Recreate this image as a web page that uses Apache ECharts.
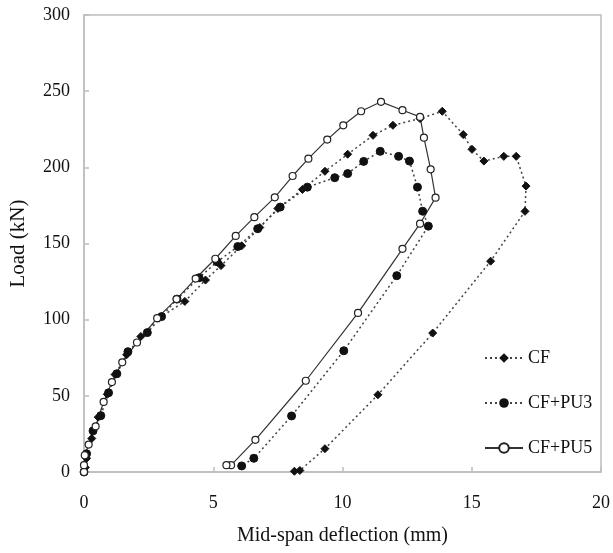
<!DOCTYPE html>
<html>
<head>
<meta charset="utf-8">
<script src="https://cdn.jsdelivr.net/npm/echarts@6/dist/echarts.min.js"></script>
<style>html,body{margin:0;padding:0;background:#fff}#c{width:613px;height:553px}</style>
</head>
<body>
<div id="c"></div>
<script>
var seriesNames = ['CF', 'CF+PU3', 'CF+PU5'];
var xTicks = [0, 5, 10, 15, 20];
var yTicks = [0, 50, 100, 150, 200, 250, 300];

var cfData = [
  [0.05,3],[0.1,9],[0.3,22],[0.55,36],[0.9,51],[1.2,64],[1.65,77],[2.2,89],[2.9,101],
  [3.9,112],[4.7,126],[5.3,135.5],[6.1,148.5],[6.8,160.5],[7.5,173],[8.45,185.5],
  [9.32,197.4],[10.2,208.6],[11.18,221],[11.95,227.6],[13.0,232],[13.86,236.8],
  [14.67,221.5],[15.01,211.8],[15.47,204.1],[16.24,207.2],[16.72,207.2],[17.10,187.7],
  [17.06,171.1],[15.73,138.4],[13.49,91.2],[11.37,50.7],[9.32,15.3],[8.35,1],[8.14,0.5]
];
var pu3Data = [
  [0,0],[0.1,12],[0.35,27],[0.65,37],[0.95,52],[1.27,64.5],[1.7,79],[2.45,91.5],[3.0,102],
  [3.6,113.5],[4.45,127.5],[5.15,138],[5.95,148],[6.72,159.7],[7.59,173.9],[8.64,187.0],
  [9.70,193.2],[10.2,195.9],[10.82,203.9],[11.46,210.5],[12.17,207.2],[12.59,204.1],
  [12.90,187.0],[13.10,171.2],[13.32,161.4],[12.10,128.9],[10.05,79.6],[8.03,36.8],
  [6.57,9],[6.10,4]
];
var pu5Data = [
  [0,0],[0,4.5],[0.03,11],[0.18,18],[0.45,30],[0.76,46],[1.08,59],[1.48,72],[2.05,85],
  [2.83,101],[3.58,113.5],[4.32,127],[5.08,140],[5.87,155],[6.59,167.3],[7.38,180.3],
  [8.07,194.3],[8.68,205.7],[9.41,218.2],[10.03,227.6],[10.72,236.8],[11.49,243.0],
  [12.32,237.5],[13.0,233.1],[13.15,219.5],[13.41,198.7],[13.60,180.1],[13.0,163.0],
  [12.32,146.5],[10.6,104.4],[8.58,59.9],[6.63,21.1],[5.69,4.5],[5.51,4.5]
];

var font = 'Liberation Serif';
var chart = echarts.init(document.getElementById('c'), null, {renderer: 'canvas'});
var axisLineStyle = {color: '#bdbdbd', width: 1.5};
chart.setOption({
  animation: false,
  backgroundColor: '#fff',
  grid: {left: 82, right: 11, top: 15, bottom: 81, show: true, borderColor: '#bdbdbd', borderWidth: 1.5, containLabel: false},
  xAxis: {
    type: 'value', min: xTicks[0], max: xTicks[xTicks.length - 1], interval: 5,
    name: 'Mid-span deflection (mm)', nameLocation: 'middle', nameGap: 54,
    nameTextStyle: {fontFamily: font, fontSize: 20, color: '#111'},
    axisLine: {show: true, lineStyle: axisLineStyle},
    axisTick: {show: true, inside: true, length: 5, lineStyle: axisLineStyle},
    axisLabel: {fontFamily: font, fontSize: 18, color: '#111', margin: 22},
    splitLine: {show: false}
  },
  yAxis: {
    type: 'value', min: yTicks[0], max: yTicks[yTicks.length - 1], interval: 50,
    name: 'Load (kN)', nameLocation: 'middle', nameGap: 55,
    nameTextStyle: {fontFamily: font, fontSize: 21, color: '#111'},
    axisLine: {show: true, lineStyle: axisLineStyle},
    axisTick: {show: true, inside: true, length: 5, lineStyle: axisLineStyle},
    axisLabel: {fontFamily: font, fontSize: 18, color: '#111', margin: 14},
    splitLine: {show: false}
  },
  legend: {
    orient: 'vertical', left: 479, top: 344,
    itemWidth: 38, itemHeight: 12, itemGap: 27,
    textStyle: {fontFamily: font, fontSize: 18, color: '#111'},
    data: seriesNames
  },
  series: [
    {
      name: seriesNames[0], type: 'line', data: cfData,
      symbol: 'diamond', symbolSize: 8,
      itemStyle: {color: '#111', borderColor: '#111'},
      lineStyle: {color: '#444', width: 1.5, type: [2, 3]}
    },
    {
      name: seriesNames[1], type: 'line', data: pu3Data,
      symbol: 'circle', symbolSize: 8,
      itemStyle: {color: '#111', borderColor: '#111'},
      lineStyle: {color: '#444', width: 1.5, type: [2, 3]}
    },
    {
      name: seriesNames[2], type: 'line', data: pu5Data,
      symbol: 'circle', symbolSize: 7,
      itemStyle: {color: '#fff', borderColor: '#222', borderWidth: 1.2},
      lineStyle: {color: '#333', width: 1.2, type: 'solid'}
    }
  ]
});
</script>
</body>
</html>
